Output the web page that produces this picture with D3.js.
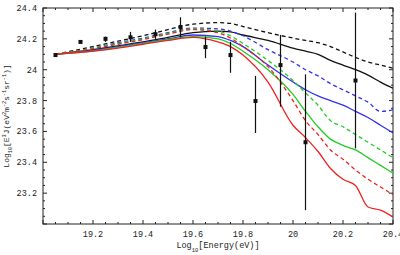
<!DOCTYPE html>
<html>
<head>
<meta charset="utf-8">
<script src="https://cdn.jsdelivr.net/npm/d3@7"></script>
<style>
  body { margin: 0; background: #fff; }
  svg { display: block; }
  text { font-family: "Liberation Mono", "DejaVu Sans Mono", monospace; fill: #222; }
</style>
</head>
<body>
<div id="chart"></div>
<script>
// energy grid shared by all model curves (log10 eV)
const energies = [19.05, 19.2, 19.3, 19.4, 19.5, 19.6, 19.7, 19.75, 19.8, 19.9, 20.0, 20.05, 20.1, 20.15, 20.2, 20.25, 20.3, 20.35, 20.4];

// model curves
const blackDashed = [24.10, 24.15, 24.185, 24.22, 24.26, 24.295, 24.305, 24.30, 24.28, 24.24, 24.205, 24.19, 24.175, 24.15, 24.115, 24.08, 24.05, 24.03, 24.01];
const blackSolid  = [24.10, 24.13, 24.155, 24.18, 24.21, 24.24, 24.25, 24.245, 24.225, 24.19, 24.14, 24.12, 24.10, 24.06, 24.03, 24.0, 23.965, 23.92, 23.88];
const blueDashed  = [24.10, 24.14, 24.175, 24.205, 24.24, 24.27, 24.265, 24.25, 24.22, 24.13, 24.05, 24.0, 23.96, 23.91, 23.87, 23.83, 23.79, 23.73, 23.74];
const blueSolid   = [24.10, 24.125, 24.15, 24.175, 24.2, 24.225, 24.215, 24.19, 24.15, 24.03, 23.92, 23.87, 23.83, 23.80, 23.77, 23.73, 23.69, 23.64, 23.59];
const greenDashed = [24.10, 24.14, 24.17, 24.2, 24.235, 24.265, 24.25, 24.22, 24.17, 24.06, 23.93, 23.85, 23.77, 23.67, 23.63, 23.58, 23.53, 23.48, 23.43];
const greenSolid  = [24.10, 24.12, 24.145, 24.17, 24.195, 24.215, 24.2, 24.17, 24.12, 24.0, 23.84, 23.73, 23.63, 23.55, 23.51, 23.48, 23.43, 23.38, 23.33];
const redDashed   = [24.10, 24.135, 24.165, 24.195, 24.23, 24.26, 24.24, 24.205, 24.15, 24.02, 23.8, 23.67, 23.58, 23.48, 23.42, 23.35, 23.29, 23.24, 23.19];
const redSolid    = [24.10, 24.12, 24.14, 24.165, 24.19, 24.21, 24.18, 24.15, 24.095, 23.92, 23.64, 23.56, 23.47, 23.36, 23.29, 23.25, 23.11, 23.09, 23.045];

// measured points with error bars
const dataE    = [19.05, 19.15, 19.25, 19.35, 19.45, 19.55, 19.65, 19.75, 19.85, 19.95, 20.05, 20.25];
const dataFlux = [24.095, 24.18, 24.2, 24.21, 24.23, 24.277, 24.147, 24.095, 23.797, 24.03, 23.53, 23.93];
const dataLow  = [24.095, 24.18, 24.18, 24.18, 24.2, 24.21, 24.075, 23.98, 23.59, 23.76, 23.09, 23.49];
const dataHigh = [24.095, 24.18, 24.215, 24.245, 24.26, 24.34, 24.215, 24.18, 23.96, 24.225, 23.97, 24.37];

const xTicks = [19.2, 19.4, 19.6, 19.8, 20.0, 20.2, 20.4];
const yTicks = [23.2, 23.4, 23.6, 23.8, 24.0, 24.2, 24.4];

const series = [
  { values: blackDashed, color: "#111", dash: "4,3" },
  { values: blackSolid,  color: "#111", dash: null },
  { values: blueDashed,  color: "#3333ee", dash: "4,3" },
  { values: blueSolid,   color: "#3333ee", dash: null },
  { values: greenDashed, color: "#22cc22", dash: "4,3" },
  { values: greenSolid,  color: "#22cc22", dash: null },
  { values: redDashed,   color: "#ee2222", dash: "4,3" },
  { values: redSolid,    color: "#ee2222", dash: null }
];

const width = 400, height = 255;
const margin = { top: 8, right: 7, bottom: 31, left: 43 };

const svg = d3.select("#chart").append("svg")
  .attr("width", width)
  .attr("height", height);

const x = d3.scaleLinear().domain([19.0, 20.4]).range([margin.left, width - margin.right]);
const y = d3.scaleLinear().domain([23.0, 24.4]).range([height - margin.bottom, margin.top]);

const fmt = d => String(+d.toFixed(1));

// frame
svg.append("rect")
  .attr("x", x(19.0)).attr("y", y(24.4))
  .attr("width", x(20.4) - x(19.0))
  .attr("height", y(23.0) - y(24.4))
  .attr("fill", "none").attr("stroke", "#222").attr("stroke-width", 1);

// ticks on all four sides, pointing inward
const minorX = d3.range(19.0, 20.401, 0.05);
const minorY = d3.range(23.0, 24.401, 0.05);
const tickG = svg.append("g").attr("stroke", "#222").attr("stroke-width", 1);

minorX.forEach(v => {
  const major = Math.abs(v * 5 - Math.round(v * 5)) < 1e-6;
  const len = major ? 4 : 2;
  tickG.append("line").attr("x1", x(v)).attr("x2", x(v)).attr("y1", y(23.0)).attr("y2", y(23.0) - len);
  tickG.append("line").attr("x1", x(v)).attr("x2", x(v)).attr("y1", y(24.4)).attr("y2", y(24.4) + len);
});
minorY.forEach(v => {
  const major = Math.abs(v * 5 - Math.round(v * 5)) < 1e-6;
  const len = major ? 4 : 2;
  tickG.append("line").attr("x1", x(19.0)).attr("x2", x(19.0) + len).attr("y1", y(v)).attr("y2", y(v));
  tickG.append("line").attr("x1", x(20.4)).attr("x2", x(20.4) - len).attr("y1", y(v)).attr("y2", y(v));
});

// tick labels
svg.append("g").selectAll("text")
  .data(xTicks).enter().append("text")
  .attr("x", d => x(d))
  .attr("y", y(23.0) + 13)
  .attr("text-anchor", "middle")
  .attr("font-size", 8.5)
  .text(fmt);

svg.append("g").selectAll("text")
  .data(yTicks).enter().append("text")
  .attr("x", x(19.0) - 6)
  .attr("y", d => y(d) + 3)
  .attr("text-anchor", "end")
  .attr("font-size", 8.5)
  .text(fmt);

// axis titles with sub/superscripts
function richText(sel, parts, size) {
  parts.forEach(([t, s]) => {
    const span = sel.append("tspan").text(t);
    if (s !== 0) {
      span.attr("font-size", size * 0.65)
        .attr("baseline-shift", s > 0 ? "super" : "sub");
    }
  });
}

const xTitle = svg.append("text")
  .attr("x", (x(19.0) + x(20.4)) / 2)
  .attr("y", height - 7)
  .attr("text-anchor", "middle")
  .attr("font-size", 8.5);
richText(xTitle, [["Log", 0], ["10", -1], ["[Energy(eV)]", 0]], 8.5);

const yTitle = svg.append("text")
  .attr("transform", `translate(9,${(y(23.0) + y(24.4)) / 2}) rotate(-90)`)
  .attr("text-anchor", "middle")
  .attr("font-size", 8);
richText(yTitle, [["Log", 0], ["10", -1], ["[E", 0], ["3", 1], ["J(eV", 0], ["2", 1], ["m", 0], ["-2", 1],
  ["s", 0], ["-1", 1], ["sr", 0], ["-1", 1], [")]", 0]], 8);

// model curves
const line = d3.line()
  .x((d, i) => x(energies[i]))
  .y(d => y(d))
  .curve(d3.curveMonotoneX);

svg.append("g").selectAll("path")
  .data(series).enter().append("path")
  .attr("d", d => line(d.values))
  .attr("fill", "none")
  .attr("stroke", d => d.color)
  .attr("stroke-width", 1.3)
  .attr("stroke-dasharray", d => d.dash);

// data points
const pts = svg.append("g");
dataE.forEach((e, i) => {
  pts.append("line")
    .attr("x1", x(e)).attr("x2", x(e))
    .attr("y1", y(dataLow[i])).attr("y2", y(dataHigh[i]))
    .attr("stroke", "#111").attr("stroke-width", 1.2);
  pts.append("rect")
    .attr("x", x(e) - 2).attr("y", y(dataFlux[i]) - 2)
    .attr("width", 4).attr("height", 4)
    .attr("fill", "#111");
});
</script>
</body>
</html>
